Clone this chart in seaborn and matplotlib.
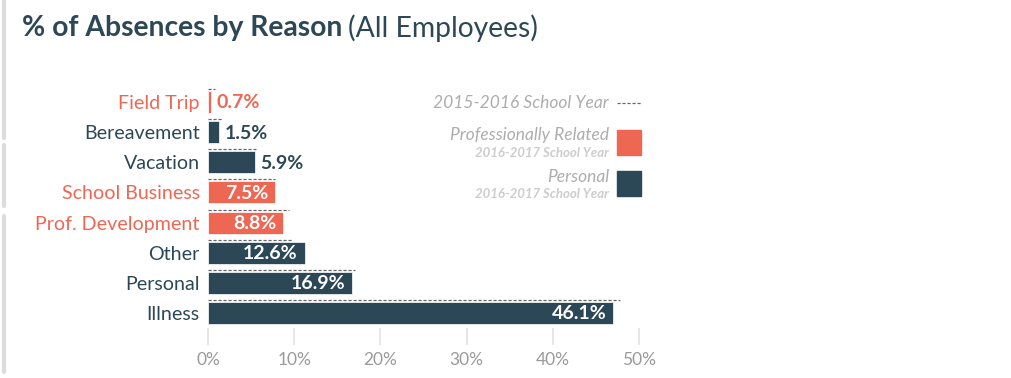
import pandas as pd
import matplotlib.pyplot as plt
import seaborn as sns
from matplotlib.lines import Line2D

# ====== DATA ======
reasons = ["Field Trip", "Bereavement", "Vacation", "School Business",
           "Prof. Development", "Other", "Personal", "Illness"]
groups = ["Professionally Related", "Personal", "Personal", "Professionally Related",
          "Professionally Related", "Personal", "Personal", "Personal"]
current_pct = [0.4, 1.3, 5.5, 7.8, 8.7, 11.2, 16.7, 47.0]      # 2016-2017 bar lengths
prior_pct = [0.8, 1.75, 5.6, 7.8, 9.4, 9.7, 17.0, 47.8]        # 2015-2016 dashed lines
value_labels = ["0.7%", "1.5%", "5.9%", "7.5%", "8.8%", "12.6%", "16.9%", "46.1%"]
x_ticks = [0, 10, 20, 30, 40, 50]

# ====== STYLE ======
CORAL = "#EE6753"
SLATE = "#2C4856"
GREY = "#9a9a9a"

sns.set_style("white")
plt.rcParams["font.family"] = ["Lato", "DejaVu Sans"]

df = pd.DataFrame({"reason": reasons, "group": groups, "pct": current_pct})

fig = plt.figure(figsize=(10.11, 3.78), dpi=100)
ax = fig.add_axes([208 / 1011, 1 - 328 / 378, 431 / 1011, 241 / 378])

sns.barplot(data=df, y="reason", x="pct", hue="group", dodge=False, saturation=1,
            palette={"Professionally Related": CORAL, "Personal": SLATE},
            width=0.73, edgecolor="white", linewidth=0.5, legend=False, ax=ax)

# previous year dashed markers just above each bar
for i, v in enumerate(prior_pct):
    ax.hlines(i - 0.43, 0, v, colors="#666666", linestyles=(0, (2.5, 1.5)), linewidth=0.9)

# value labels
for i, (v, lab) in enumerate(zip(current_pct, value_labels)):
    if v > 7:
        ax.text(v - 0.8, i + 0.03, lab, ha="right", va="center", color="white",
                fontsize=14, fontweight="bold")
    else:
        col = CORAL if groups[i] == "Professionally Related" else SLATE
        ax.text(v + 0.6, i + 0.03, lab, ha="left", va="center", color=col,
                fontsize=14, fontweight="bold")

ax.set_xlim(0, 50)
ax.set_ylim(7.5, -0.5)
ax.set_xticks(x_ticks)
ax.set_xticklabels([f"{t}%" for t in x_ticks], color=GREY, fontsize=12.5)
ax.tick_params(axis="x", bottom=True, direction="out", length=12, width=1.2,
               color="#e2e2e2", pad=5)
ax.tick_params(axis="y", length=0, pad=6)
for lab, g in zip(ax.get_yticklabels(), groups):
    lab.set_color(CORAL if g == "Professionally Related" else SLATE)
    lab.set_fontsize(14.1)
ax.set_xlabel("")
ax.set_ylabel("")
sns.despine(ax=ax, left=True, bottom=True)

# ====== TITLE ======
t = fig.text(22 / 1011, 1 - 28 / 378, "% of Absences by Reason", fontsize=20.3,
             fontweight="bold", color=SLATE, va="center")
fig.canvas.draw()
bb = t.get_window_extent()
fig.text((bb.x1 + 6) / 1011, 1 - 28 / 378, "(All Employees)", fontsize=20.3,
         color=SLATE, va="center")

# ====== LEGEND ======
fx = lambda px: px / 1011
fy = lambda py: 1 - py / 378
fig.text(fx(609), fy(103), "2015-2016 School Year", ha="right", va="center",
         style="italic", color="#adadad", fontsize=12.5)
fig.add_artist(Line2D([fx(617), fx(641)], [fy(103), fy(103)], color="#666666",
                      linestyle=(0, (2.5, 1.5)), linewidth=0.9))
fig.text(fx(609), fy(135), "Professionally Related", ha="right", va="center",
         style="italic", color="#adadad", fontsize=12.5)
fig.text(fx(609), fy(153), "2016-2017 School Year", ha="right", va="center",
         style="italic", fontweight="bold", color="#cdcdcd", fontsize=9.5)
fig.text(fx(609), fy(177), "Personal", ha="right", va="center",
         style="italic", color="#adadad", fontsize=12.5)
fig.text(fx(609), fy(194), "2016-2017 School Year", ha="right", va="center",
         style="italic", fontweight="bold", color="#cdcdcd", fontsize=9.5)
fig.add_artist(plt.Rectangle((fx(617), fy(155)), fx(24), 25 / 378, color=CORAL,
                             transform=fig.transFigure))
fig.add_artist(plt.Rectangle((fx(617), fy(196)), fx(24), 25 / 378, color=SLATE,
                             transform=fig.transFigure))

# left dashed border
for y0, y1 in [(0, 138), (145, 206), (216, 372)]:
    fig.add_artist(Line2D([fx(4), fx(4)], [fy(y0), fy(y1)], color="#dcdcdc",
                          linewidth=3))

fig.savefig("out.png", dpi=100)
